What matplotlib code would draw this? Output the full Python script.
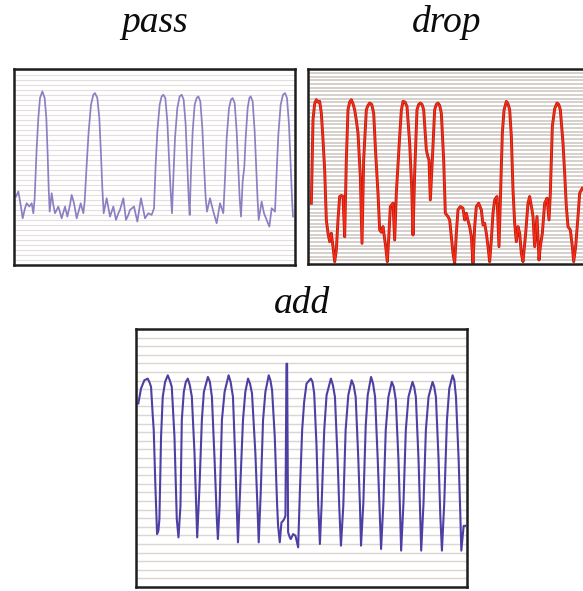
import numpy as np
import matplotlib
matplotlib.use("Agg")
import matplotlib.pyplot as plt

# ---------------- data (arbitrary time / amplitude units) -------------
pass_t = [18, 25, 32, 38, 45, 50, 58, 65, 70, 74, 78, 80, 85, 90, 97, 104, 109, 113, 116, 119,
          125, 130, 135, 145, 155, 165, 172, 180, 185, 192, 200, 207, 212, 220, 224,
          230, 236, 243, 250, 255, 262, 268, 273, 277, 281,
          290, 300, 310, 318, 325, 330, 340, 348, 355, 360, 372, 382, 393, 400, 405, 415, 425, 432,
          437, 442, 449, 455, 460, 466, 472, 477, 482, 486,
          490, 495, 502, 509, 515, 521, 527, 532, 536, 539,
          543, 548, 554, 560, 565, 571, 577, 582, 587, 591,
          600, 605, 610, 620, 630, 640,
          645, 650, 657, 663, 668, 674, 680, 685, 689, 693,
          698, 703, 707, 713, 718, 722, 728, 734, 739, 743, 746,
          755, 762, 770, 778, 785, 795,
          800, 805, 812, 819, 825, 831, 837, 842, 846, 849]
pass_v = [205, 220, 180, 140, 170, 185, 175, 185, 155, 200, 300, 350, 440, 500, 520, 500, 440, 330, 230, 160,
          215, 180, 155, 175, 140, 175, 145, 180, 210, 185, 140, 165, 185, 155, 190,
          300, 400, 480, 510, 515, 500, 440, 330, 230, 155,
          200, 145, 175, 135, 155, 165, 200, 135, 150, 165, 175, 130, 200, 165, 140, 155, 150, 170,
          300, 400, 480, 505, 510, 500, 430, 320, 220, 155,
          260, 380, 470, 505, 510, 495, 420, 300, 200, 150,
          280, 400, 480, 500, 505, 490, 410, 300, 200, 160,
          200, 180, 160, 125, 185, 155,
          260, 380, 470, 495, 500, 485, 400, 290, 200, 145,
          250, 295, 380, 470, 500, 505, 490, 400, 280, 190, 135,
          190, 155, 135, 115, 170, 160,
          280, 390, 480, 510, 515, 500, 420, 300, 200, 145]

drop_t = [35, 40, 45, 50, 55, 60, 65, 70, 75, 80, 85, 90, 95, 100, 105, 110, 115, 120, 125, 130,
          135, 140, 145, 150, 155, 160, 165, 170, 175, 182, 187, 192, 200, 205, 210, 216, 222, 228,
          235, 240, 245, 250, 258, 263, 268, 272, 280, 285, 290, 300, 305, 310, 316, 322, 330, 336,
          340, 345, 352, 357, 362, 367, 372, 380, 385, 388, 392, 398, 405, 410, 415, 420, 425, 432,
          437, 445, 450, 455, 460, 465, 470, 475, 482, 490, 495, 500, 505, 510, 515, 520, 525, 530,
          537, 545, 550, 555, 560, 565, 570, 575, 580, 585, 592, 598, 602, 608, 613, 620, 625, 630,
          635, 640, 645, 650, 655, 660, 665, 670, 678, 685, 690, 697, 700, 705, 712, 718, 722, 728,
          735, 742, 748, 752, 758, 765, 772, 777, 782, 790, 795, 800, 805, 812, 818, 822, 828, 835,
          840, 848]
drop_v = [182, 432, 480, 492, 485, 487, 452, 372, 282, 132, 92, 67, 92, 52, 7, 42, 132, 202, 205, 202,
          82, 312, 462, 485, 492, 480, 462, 430, 392, 262, 62, 312, 462, 475, 482, 478, 452, 332,
          212, 102, 95, 112, 52, 7, 92, 172, 182, 72, 212, 382, 460, 487, 485, 472, 362, 232,
          87, 272, 462, 478, 482, 478, 462, 342, 320, 312, 192, 312, 462, 478, 482, 475, 452, 312,
          152, 142, 132, 82, 32, 2, 92, 162, 172, 167, 132, 152, 130, 112, 82, 2, 112, 172,
          182, 162, 117, 122, 92, 52, 7, 72, 152, 192, 202, 52, 192, 392, 460, 487, 480, 462,
          382, 222, 122, 67, 112, 92, 32, 7, 92, 182, 202, 162, 142, 52, 142, 12, 52, 92,
          182, 197, 132, 212, 412, 465, 482, 478, 462, 362, 272, 172, 112, 102, 52, 7, 52, 142,
          212, 227]

add_t = [22, 30, 40, 50, 55, 60, 65, 68, 73, 76, 78, 82, 85, 90, 95, 102, 110, 116, 122, 130,
         137, 142, 148, 152, 158, 164, 170, 176, 182, 190, 198, 205, 212, 218, 230, 236, 242, 250,
         257, 260, 265, 272, 280, 292, 298, 305, 312, 317, 320, 327, 335, 342, 350, 356, 362, 372,
         378, 382, 388, 395, 402, 412, 417, 422, 430, 437, 440, 445, 450, 455, 458, 462, 465, 467,
         470, 475, 478, 485, 492, 500, 505, 512, 518, 525, 538, 543, 548, 555, 560, 565, 570, 578,
         585, 598, 604, 610, 618, 623, 628, 635, 642, 650, 660, 666, 672, 680, 685, 688, 695, 702,
         708, 718, 724, 730, 738, 744, 748, 755, 762, 770, 780, 786, 792, 800, 805, 808, 815, 822,
         830, 842, 847, 852, 860, 865, 868, 875, 882, 890, 902, 907, 912, 920, 925, 930, 937, 945,
         952, 962, 967, 972, 980, 985, 988, 995, 1000]
add_v = [555, 600, 625, 630, 620, 605, 520, 475, 305, 220, 160, 170, 205, 455, 575, 620, 640, 625, 605, 455,
         205, 150, 245, 505, 590, 620, 630, 610, 575, 405, 150, 305, 505, 590, 635, 620, 575, 385,
         200, 145, 245, 505, 590, 640, 620, 575, 385, 220, 135, 305, 505, 590, 630, 615, 585, 405,
         250, 135, 285, 505, 590, 640, 625, 595, 455, 250, 185, 135, 195, 200, 205, 215, 675, 675,
         165, 150, 145, 160, 155, 120, 285, 475, 560, 615, 630, 620, 585, 425, 250, 130, 245, 475,
         580, 630, 610, 575, 385, 240, 125, 245, 475, 580, 625, 610, 575, 385, 240, 125, 255, 485,
         580, 635, 615, 575, 385, 220, 115, 255, 475, 575, 620, 605, 565, 385, 220, 110, 255, 475,
         575, 620, 605, 575, 385, 220, 110, 255, 475, 575, 620, 605, 575, 385, 220, 110, 255, 505,
         600, 640, 625, 575, 385, 220, 110, 185, 185]

titles = ["pass", "drop", "add"]

# ---------------- figure ----------------
W, H = 583, 591
fig = plt.figure(figsize=(W / 100, H / 100), dpi=100)
fig.patch.set_facecolor("white")


def make_ax(left, top, right, bottom):
    return fig.add_axes([left / W, 1 - bottom / H, (right - left) / W, (bottom - top) / H])


def style(ax, xlim, ylim, step, gcolor, glw):
    ax.set_xlim(*xlim)
    ax.set_ylim(*ylim)
    ax.set_xticks([])
    ax.set_yticks(np.arange(step, ylim[1], step))
    ax.tick_params(axis="y", length=0, labelleft=False)
    ax.grid(axis="y", color=gcolor, lw=glw)
    ax.set_axisbelow(True)
    for s in ax.spines.values():
        s.set_color("#1e1e1e")
        s.set_linewidth(1.8)


ax1 = make_ax(14, 69, 295, 265)
style(ax1, (12, 855), (0, 587), 15, "#e6dede", 0.8)
ax1.plot(pass_t, pass_v, color="#8a80c2", lw=1.25)

ax2 = make_ax(308, 69, 589, 264)
style(ax2, (25, 868), (0, 584), 11, "#cbc3bf", 1.1)
ax2.plot(drop_t, drop_v, color="#b81c12", lw=2.1, solid_joinstyle="round")
ax2.plot(drop_t, drop_v, color="#ff2a12", lw=1.0, solid_joinstyle="round")

ax3 = make_ax(136, 329, 467, 587)
style(ax3, (15, 1005), (0, 780), 26, "#ddd5d1", 1.0)
ax3.plot(add_t, add_v, color="#4c40a4", lw=1.5)

font = dict(family=["Liberation Serif", "DejaVu Serif"], style="italic", fontsize=27,
            color="#0c0c0c", ha="center", va="baseline")
fig.text(155 / W, 1 - 32 / H, titles[0], **font)
fig.text(447 / W, 1 - 32 / H, titles[1], **font)
fig.text(302 / W, 1 - 313 / H, titles[2], **font)

fig.savefig("out.png", dpi=100, facecolor="white")
